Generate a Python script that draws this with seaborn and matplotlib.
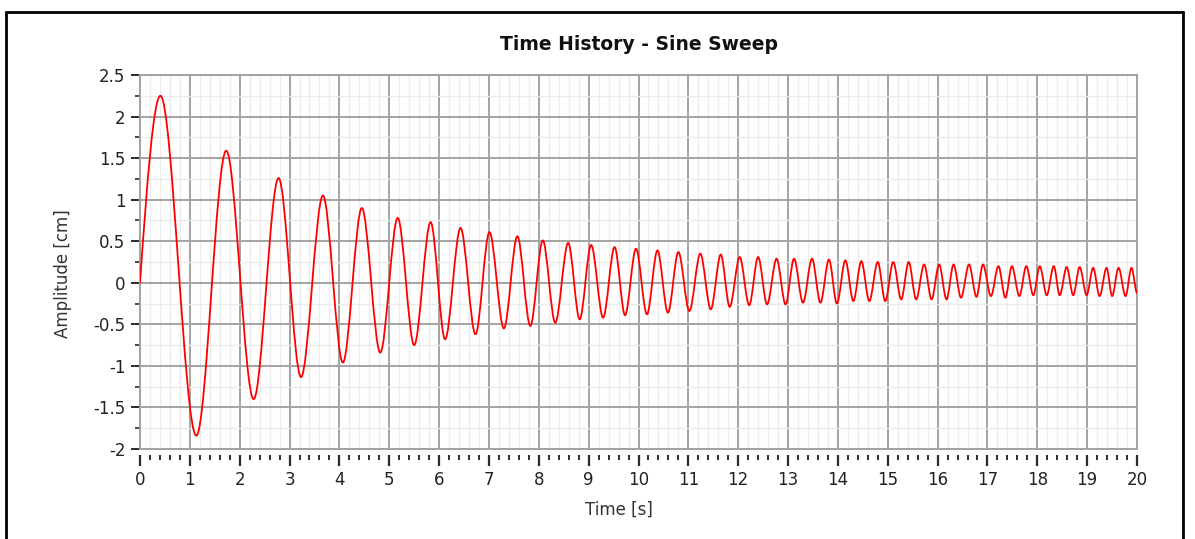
import numpy as np
import pandas as pd
import matplotlib
matplotlib.use("Agg")
import matplotlib.pyplot as plt
import seaborn as sns
from matplotlib.lines import Line2D
from matplotlib.ticker import MultipleLocator
from matplotlib.patheffects import AbstractPathEffect
from matplotlib.path import Path
from matplotlib.transforms import IdentityTransform

# ---- data: start point, every peak / trough, end point ----
time_s = [
    0.00, 0.41, 1.13, 1.73, 2.28, 2.78, 3.23, 3.67, 4.07, 4.45, 4.82, 5.17, 5.50, 5.83,
    6.12, 6.43, 6.73, 7.01, 7.30, 7.57, 7.83, 8.08, 8.33, 8.59, 8.82, 9.05, 9.29, 9.52,
    9.73, 9.95, 10.17, 10.38, 10.59, 10.80, 11.02, 11.24, 11.45, 11.65, 11.83, 12.03,
    12.22, 12.40, 12.58, 12.77, 12.95, 13.12, 13.30, 13.48, 13.65, 13.82, 13.98, 14.15,
    14.31, 14.47, 14.63, 14.80, 14.95, 15.11, 15.27, 15.42, 15.57, 15.73, 15.88, 16.03,
    16.18, 16.32, 16.47, 16.63, 16.78, 16.91, 17.07, 17.22, 17.36, 17.49, 17.64, 17.78,
    17.92, 18.05, 18.19, 18.33, 18.45, 18.59, 18.72, 18.85, 18.99, 19.12, 19.25, 19.39,
    19.50, 19.63, 19.77, 19.89, 20.00,
]
amplitude_cm = [
    0.00, 2.25, -1.84, 1.59, -1.40, 1.26, -1.135, 1.05, -0.96, 0.90, -0.84, 0.78, -0.75, 0.73,
    -0.68, 0.66, -0.62, 0.61, -0.55, 0.56, -0.52, 0.51, -0.48, 0.48, -0.44, 0.455, -0.42, 0.43,
    -0.39, 0.41, -0.38, 0.39, -0.36, 0.37, -0.34, 0.35, -0.32, 0.34, -0.29, 0.31,
    -0.27, 0.31, -0.26, 0.29, -0.26, 0.29, -0.24, 0.29, -0.24, 0.28, -0.25, 0.27,
    -0.22, 0.26, -0.22, 0.25, -0.22, 0.25, -0.20, 0.25, -0.20, 0.22, -0.20, 0.22,
    -0.20, 0.22, -0.18, 0.22, -0.17, 0.22, -0.16, 0.20, -0.18, 0.20, -0.16, 0.20,
    -0.15, 0.20, -0.15, 0.20, -0.15, 0.19, -0.15, 0.19, -0.15, 0.18, -0.16, 0.18,
    -0.16, 0.18, -0.16, 0.18, -0.12,
]
x_ticks = list(range(0, 21))
y_ticks = [-2, -1.5, -1, -0.5, 0, 0.5, 1, 1.5, 2, 2.5]
y_tick_labels = ["-2", "-1.5", "-1", "-0.5", "0", "0.5", "1", "1.5", "2", "2.5"]

title = "Time History - Sine Sweep"
x_label = "Time [s]"
y_label = "Amplitude [cm]"

df = pd.DataFrame({"Time": time_s, "Amplitude": amplitude_cm})


class SmoothThroughExtrema(AbstractPathEffect):
    """Render a polyline as a smooth curve (flat tangents at each vertex,
    i.e. at each peak / trough), like a 'smooth line' option."""

    def draw_path(self, renderer, gc, tpath, affine, rgbFace=None):
        pts = affine.transform(tpath.vertices)
        verts = [pts[0]]
        codes = [Path.MOVETO]
        for i in range(1, len(pts)):
            x0, y0 = pts[i - 1]
            x1, y1 = pts[i]
            dx = x1 - x0
            if i == 1:
                c1 = (x0 + dx / 3, y0 + 0.52 * (y1 - y0))
            else:
                c1 = (x0 + dx / 3, y0)
            c2 = (x1 - dx / 3, y1)
            verts += [c1, c2, (x1, y1)]
            codes += [Path.CURVE4] * 3
        renderer.draw_path(gc, Path(np.array(verts), codes), IdentityTransform(), rgbFace)


sns.set_theme(style="white")
plt.rcParams["font.family"] = ["DejaVu Sans"]

W, H = 1195, 539
fig = plt.figure(figsize=(W / 100, H / 100), dpi=100)
ax = fig.add_axes([140 / W, 1 - 449 / H, (1137 - 140) / W, (449 - 75) / H])

sns.lineplot(data=df, x="Time", y="Amplitude", ax=ax, color="#ff0000",
             linewidth=1.3, zorder=5)
for ln in ax.get_lines():
    ln.set_path_effects([SmoothThroughExtrema()])

ax.set_xlim(0, 20)
ax.set_ylim(-2, 2.5)

# grid
ax.xaxis.set_minor_locator(MultipleLocator(0.2))
ax.yaxis.set_minor_locator(MultipleLocator(0.25))
ax.set_yticks(y_ticks)
ax.set_yticklabels(y_tick_labels)
ax.set_xticks(x_ticks)
ax.set_xticklabels([str(v) for v in x_ticks])
ax.grid(which="minor", color="#ececec", linewidth=1.0, zorder=0)
ax.grid(which="major", color="#a3a3a3", linewidth=1.4, zorder=1)
ax.set_axisbelow(True)

for side in ["left", "top", "right"]:
    ax.spines[side].set_color("#a3a3a3")
    ax.spines[side].set_linewidth(1.4)
ax.spines["bottom"].set_position(("outward", 4))
ax.spines["bottom"].set_visible(False)
ax.axhline(-2, color="#a3a3a3", linewidth=1.4, clip_on=False, zorder=2)

tick_color = "#2b2b2b"
ax.tick_params(axis="y", which="major", direction="out", length=6.5, width=1.4,
               color=tick_color, labelsize=12, labelcolor="#222222", pad=4, left=True)
ax.tick_params(axis="y", which="minor", direction="out", length=3.5, width=1.2,
               color=tick_color, left=True)
ax.tick_params(axis="x", which="major", direction="out", length=8, width=1.6,
               color=tick_color, labelsize=12, labelcolor="#222222", pad=4, bottom=True)
ax.tick_params(axis="x", which="minor", direction="out", length=3.5, width=1.4,
               color=tick_color, bottom=True)

ax.set_title(title, fontsize=13.5, fontweight="bold", color="#111111",
             y=(449 - 45) / (449 - 75), va="center", pad=0)
ax.set_xlabel(x_label, fontsize=12, color="#333333")
ax.set_ylabel(y_label, fontsize=12, color="#333333")
ax.xaxis.set_label_coords((619 - 140) / (1137 - 140), -(510 - 449) / (449 - 75))
ax.yaxis.set_label_coords(-(140 - 63) / (1137 - 140), (449 - 274) / (449 - 75))
ax.xaxis.label.set_verticalalignment("center")
ax.yaxis.label.set_verticalalignment("center")

# outer frame of the panel
frame_kw = dict(color="black", linewidth=2.0, transform=fig.transFigure)
fig.add_artist(Line2D([6 / W, 1183 / W], [1 - 12 / H, 1 - 12 / H], **frame_kw))
fig.add_artist(Line2D([6 / W, 6 / W], [0, 1 - 12 / H], **frame_kw))
fig.add_artist(Line2D([1183 / W, 1183 / W], [0, 1 - 12 / H], **frame_kw))

fig.savefig("out.png", dpi=100, facecolor="white")
